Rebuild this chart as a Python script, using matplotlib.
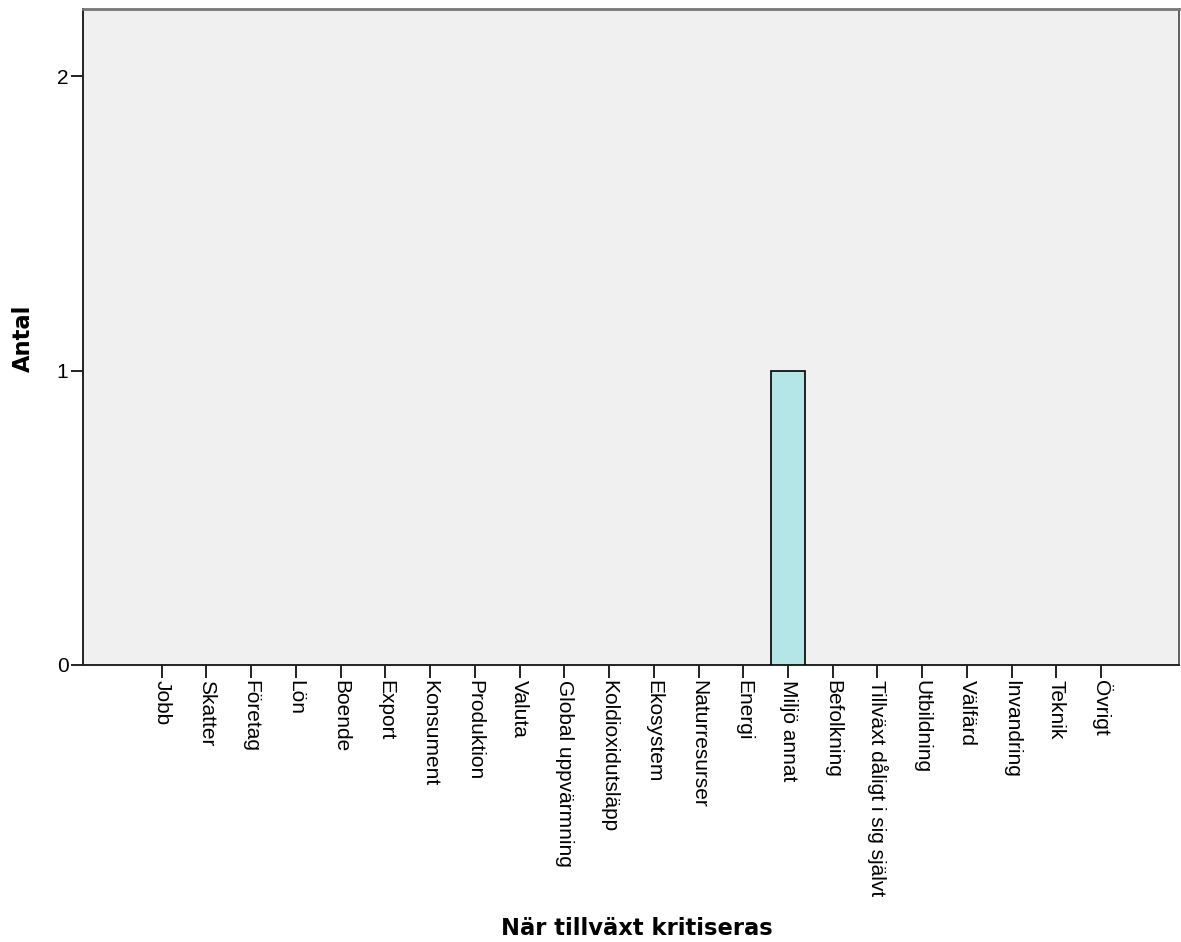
import matplotlib

matplotlib.use("Agg")
import matplotlib.pyplot as plt

# Data
categories = [
    "Jobb", "Skatter", "Företag", "Lön", "Boende", "Export", "Konsument",
    "Produktion", "Valuta", "Global uppvärmning", "Koldioxidutsläpp",
    "Ekosystem", "Naturresurser", "Energi", "Miljö annat", "Befolkning",
    "Tillväxt dåligt i sig självt", "Utbildning", "Välfärd", "Invandring",
    "Teknik", "Övrigt",
]
counts = [0, 0, 0, 0, 0, 0, 0, 0, 0, 0, 0, 0, 0, 0, 1, 0, 0, 0, 0, 0, 0, 0]
y_ticks = [0, 1, 2]

fig = plt.figure(figsize=(11.81, 9.42), dpi=100)
ax = fig.add_axes([83 / 1181, 1 - 665 / 942, (1179 - 83) / 1181, (665 - 9) / 942])
ax.set_facecolor("#F0F0F0")

x = list(range(len(categories)))
# empty categories get no outline so nothing shows on the baseline
edge_widths = [1.2 if c > 0 else 0 for c in counts]
ax.bar(x, counts, width=0.78, color="#B4E6E7", edgecolor="black",
       linewidth=edge_widths, zorder=3)

ax.set_xlim(-1.76, len(categories) - 1 + 1.74)
ax.set_ylim(0, 2.228)

ax.set_xticks(x)
ax.set_xticklabels(categories, rotation=270, family="Liberation Sans", fontsize=15,
                   va="top", ha="center")
ax.set_yticks(y_ticks)
ax.set_yticklabels([str(v) for v in y_ticks], family="Liberation Sans", fontsize=15)
ax.tick_params(axis="both", length=9, width=1.4, color="#222222", pad=1.5)

for side in ["left", "bottom"]:
    ax.spines[side].set_color("#222222")
    ax.spines[side].set_linewidth(1.4)
ax.spines["top"].set_color("#777777")
ax.spines["top"].set_linewidth(2)
ax.spines["right"].set_color("#444444")
ax.spines["right"].set_linewidth(1.2)

fig.text(23 / 1181, 1 - 338 / 942, "Antal", rotation=90, ha="center", va="center",
         fontsize=16.3, fontweight="bold", family="DejaVu Sans")
fig.text(637 / 1181, 1 - 935 / 942, "När tillväxt kritiseras", ha="center", va="baseline",
         fontsize=16.3, fontweight="bold", family="DejaVu Sans")

fig.savefig("out.png", dpi=100)
